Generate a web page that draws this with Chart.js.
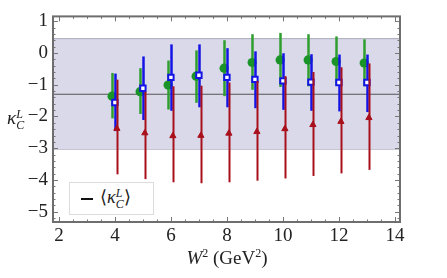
<!DOCTYPE html>
<html lang="en">
<head>
    <meta charset="UTF-8">
    <title>kappa C L vs W2</title>
    <script src="https://cdn.jsdelivr.net/npm/chart.js"></script>
    <style>
        body { margin: 0; background: #fff; }
        #wrap { position: relative; width: 447px; height: 278px; font-family: "Liberation Serif", serif; color: #222; }
        canvas { position: absolute; left: 0; top: 0; }
        .lbl { position: absolute; font-size: 19px; white-space: nowrap; line-height: 1; }
        .ss { display: inline-block; vertical-align: middle; line-height: 0.9; font-size: 12px; font-style: italic; }
        sup { font-size: 12px; }
        #legend { position: absolute; left: 69px; top: 182px; width: 85px; height: 33px; box-sizing: border-box;
                  border: 1px solid #dcdcdc; background: #fff; }
        #legend .swatch { position: absolute; left: 11px; top: 15px; width: 12px; height: 2px; background: #111; }
        #legend .txt { position: absolute; left: 30px; top: 5px; font-size: 18px; line-height: 1; }
    </style>
</head>
<body>
<div id="wrap">
    <canvas id="chart" width="447" height="278"></canvas>
    <div class="lbl" style="left:7px; top:108px;"><i>κ</i><span class="ss">L<br>C</span></div>
    <div class="lbl" style="left:227px; top:247px; transform:translateX(-50%);"><i>W</i><sup>2</sup> (GeV<sup>2</sup>)</div>
    <div id="legend"><div class="swatch"></div><div class="txt">⟨<i>κ</i><span class="ss">L<br>C</span>⟩</div></div>
</div>
<script>
    // values
    const w2 = [4, 5, 6, 7, 8, 9, 10, 11, 12, 13];

    const greenVal = [-1.36, -1.22, -1.01, -0.73, -0.48, -0.30, -0.22, -0.22, -0.27, -0.32];
    const greenHi  = [-0.63, -0.48, -0.24, 0.08, 0.40, 0.59, 0.63, 0.59, 0.52, 0.43];
    const greenLo  = [-2.06, -1.92, -1.78, -1.57, -1.36, -1.16, -1.07, -1.05, -1.02, -1.05];

    const blueVal = [-1.56, -1.11, -0.77, -0.70, -0.77, -0.83, -0.88, -0.92, -0.93, -0.93];
    const blueHi  = [-0.65, -0.11, 0.27, 0.27, 0.15, 0.05, -0.01, -0.04, -0.05, -0.05];
    const blueLo  = [-2.46, -2.11, -1.82, -1.71, -1.71, -1.74, -1.79, -1.82, -1.84, -1.86];

    const redVal = [-2.38, -2.52, -2.61, -2.60, -2.53, -2.48, -2.39, -2.26, -2.16, -2.04];
    const redHi  = [-0.84, -1.22, -1.05, -1.03, -0.93, -0.88, -0.73, -0.60, -0.45, -0.33];
    const redLo  = [-3.82, -3.97, -4.07, -4.10, -4.07, -4.02, -3.95, -3.87, -3.79, -3.68];

    const meanKappa = -1.30;
    const bandHi = 0.45;
    const bandLo = -3.03;

    const xMin = 1.79, xMax = 14.18;
    const yMin = -5.32, yMax = 1.15;

    // small horizontal shifts so the three sets do not sit on top of each other
    const greenShift = -0.1, blueShift = 0, redShift = 0.07;

    const pts = (vals, shift) => vals.map((v, i) => ({ x: w2[i] + shift, y: v }));

    const errorBars = {
        id: 'errorBars',
        beforeDatasetDraw(chart, args) {
            const ds = chart.data.datasets[args.index];
            if (!ds.errHi) return;
            const xs = chart.scales.x, ys = chart.scales.y;
            const ctx = chart.ctx;
            ctx.save();
            ctx.strokeStyle = ds.barColor;
            ctx.lineWidth = ds.barWidth;
            ds.data.forEach((p, i) => {
                const px = Math.round(xs.getPixelForValue(p.x)) + 0.5;
                ctx.beginPath();
                ctx.moveTo(px, ys.getPixelForValue(ds.errHi[i]));
                ctx.lineTo(px, ys.getPixelForValue(ds.errLo[i]));
                ctx.stroke();
            });
            ctx.restore();
        }
    };

    // Mathematica style frame with inward ticks on all four sides
    const frame = {
        id: 'frame',
        afterDraw(chart) {
            const { ctx, chartArea: a } = chart;
            const xs = chart.scales.x, ys = chart.scales.y;
            ctx.save();
            ctx.strokeStyle = '#777';
            ctx.lineWidth = 1;
            for (let v = 2; v <= 14.001; v += 0.5) {
                const px = Math.round(xs.getPixelForValue(v)) + 0.5;
                const len = Math.abs(v % 2) < 1e-6 ? 5 : 2.5;
                ctx.beginPath();
                ctx.moveTo(px, a.bottom); ctx.lineTo(px, a.bottom - len);
                ctx.moveTo(px, a.top); ctx.lineTo(px, a.top + len);
                ctx.stroke();
            }
            for (let k = -26; k <= 5; k++) {
                const v = k / 5;
                if (v < yMin || v > yMax) continue;
                const py = Math.round(ys.getPixelForValue(v)) + 0.5;
                const len = k % 5 === 0 ? 5 : 2.5;
                ctx.beginPath();
                ctx.moveTo(a.left, py); ctx.lineTo(a.left + len, py);
                ctx.moveTo(a.right, py); ctx.lineTo(a.right - len, py);
                ctx.stroke();
            }
            ctx.lineWidth = 2;
            ctx.strokeStyle = '#6e6e6e';
            ctx.strokeRect(a.left, a.top, a.right - a.left, a.bottom - a.top);
            ctx.restore();
        }
    };

    const tickFont = { family: 'Liberation Serif', size: 19 };
    const minus = v => (v < 0 ? '\u2212' + Math.abs(v) : String(v));

    new Chart(document.getElementById('chart'), {
        type: 'scatter',
        data: {
            datasets: [
                {
                    label: 'red', data: pts(redVal, redShift),
                    errHi: redHi, errLo: redLo, barColor: '#a8101c', barWidth: 2,
                    pointStyle: 'triangle', pointRadius: 3.6,
                    backgroundColor: '#a8101c', borderColor: '#a8101c', borderWidth: 1
                },
                {
                    label: 'blue', data: pts(blueVal, blueShift),
                    errHi: blueHi, errLo: blueLo, barColor: '#1414e6', barWidth: 2.5,
                    pointStyle: 'rect', pointRadius: 3.8,
                    backgroundColor: '#ffffff', borderColor: '#1414e6', borderWidth: 2
                },
                {
                    label: 'green', data: pts(greenVal, greenShift),
                    errHi: greenHi, errLo: greenLo, barColor: '#2e9e2e', barWidth: 2.5,
                    pointStyle: 'circle', pointRadius: 4.6,
                    backgroundColor: '#1a9428', borderColor: '#1a9428', borderWidth: 0
                },
                {
                    label: 'mean', type: 'line',
                    data: [{ x: xMin, y: meanKappa }, { x: xMax, y: meanKappa }],
                    borderColor: '#555', borderWidth: 1, pointRadius: 0, fill: false
                },
                {
                    label: 'bandHi', type: 'line',
                    data: [{ x: xMin, y: bandHi }, { x: xMax, y: bandHi }],
                    borderColor: '#a9a9b8', borderWidth: 1, pointRadius: 0,
                    fill: '+1', backgroundColor: 'rgb(217,217,234)'
                },
                {
                    label: 'bandLo', type: 'line',
                    data: [{ x: xMin, y: bandLo }, { x: xMax, y: bandLo }],
                    borderColor: '#a9a9b8', borderWidth: 1, pointRadius: 0, fill: false
                }
            ]
        },
        options: {
            responsive: false,
            animation: false,
            layout: { padding: { top: 7, right: 47, left: 0, bottom: 0 } },
            plugins: {
                legend: { display: false },
                tooltip: { enabled: false }
            },
            scales: {
                x: {
                    type: 'linear', min: xMin, max: xMax,
                    afterFit: s => { s.height = 56; },
                    afterBuildTicks: s => { s.ticks = [2, 4, 6, 8, 10, 12, 14].map(v => ({ value: v })); },
                    grid: { display: false, drawTicks: false },
                    border: { display: false },
                    ticks: { font: tickFont, color: '#222', padding: 3, maxRotation: 0, autoSkip: false, callback: minus }
                },
                y: {
                    type: 'linear', min: yMin, max: yMax,
                    afterFit: s => { s.width = 53; },
                    afterBuildTicks: s => { s.ticks = [-5, -4, -3, -2, -1, 0, 1].map(v => ({ value: v })); },
                    grid: { display: false, drawTicks: false },
                    border: { display: false },
                    ticks: { font: tickFont, color: '#222', padding: 5, autoSkip: false, callback: minus }
                }
            }
        },
        plugins: [errorBars, frame]
    });
</script>
</body>
</html>
